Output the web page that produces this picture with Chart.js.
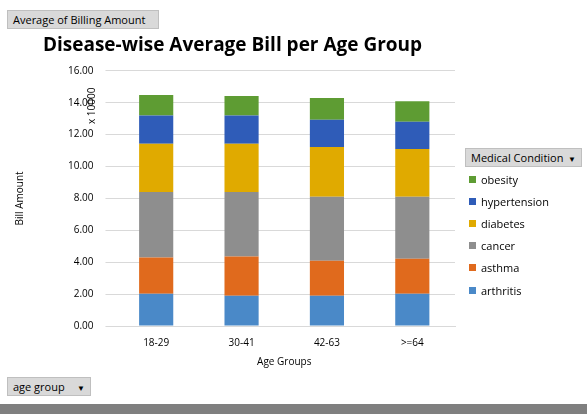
<!DOCTYPE html>
<html lang="en">
<head>
<meta charset="UTF-8">
<title>Disease-wise Average Bill per Age Group</title>
<script src="https://cdn.jsdelivr.net/npm/chart.js"></script>
<style>
    body { margin: 0; width: 587px; height: 414px; background: #fff; font-family: "Open Sans", sans-serif; position: relative; overflow: hidden; }
    #wrap { position: absolute; left: 0; top: 0; width: 587px; height: 404px; }
    .btn { position: absolute; background: #d9d9d9; border: 1px solid #bfbfbf; font-size: 11px; color: #000; padding: 1px 5px; white-space: nowrap; }
    .btn .arr { float: right; font-size: 8px; margin-top: 3px; }
    #bottombar { position: absolute; left: 0; top: 404px; width: 587px; height: 10px; background: #7f7f7f; }
    #legend { position: absolute; left: 465px; top: 168px; font-size: 11px; }
    #legend .item { display: flex; align-items: center; height: 22.2px; padding-left: 4px; }
    #legend .sw { width: 7px; height: 7px; margin-right: 5px; }
    #unit { position: absolute; left: 84px; font-size: 10px; transform: rotate(-90deg); transform-origin: left top; }
</style>
</head>
<body>
<div id="wrap"><canvas id="chart" width="587" height="404"></canvas></div>
<div class="btn" style="left:7px;top:10px;width:140px;">Average of  Billing  Amount</div>
<div class="btn" style="left:465px;top:148px;width:105px;">Medical Condition <span class="arr">&#9660;</span></div>
<div class="btn" style="left:7px;top:377px;width:72px;">age group <span class="arr">&#9660;</span></div>
<div id="unit" style="top:124px;">x 10000</div>
<div id="legend"></div>
<div id="bottombar"></div>

<script>
    const ageGroups = ['18-29', '30-41', '42-63', '>=64'];
    const conditions = ['arthritis', 'asthma', 'cancer', 'diabetes', 'hypertension', 'obesity'];
    const arthritis = [2.02, 1.89, 1.89, 2.02];
    const asthma = [2.27, 2.47, 2.20, 2.20];
    const cancer = [4.11, 4.04, 4.02, 3.89];
    const diabetes = [3.02, 3.02, 3.11, 2.98];
    const hypertension = [1.78, 1.78, 1.71, 1.71];
    const obesity = [1.29, 1.22, 1.36, 1.29];
    const yTicks = [0, 2, 4, 6, 8, 10, 12, 14, 16];

    const series = [arthritis, asthma, cancer, diabetes, hypertension, obesity];
    const colors = [
        ['#6fa8e0', '#4a89c8'],
        ['#f4915a', '#e06a1d'],
        ['#b4b4b4', '#8e8e8e'],
        ['#ffc83d', '#e0aa00'],
        ['#5a83d6', '#2f5cb8'],
        ['#86bd5c', '#5e9c33']
    ];

    // legend (top entry = last series, like Excel)
    const legend = document.getElementById('legend');
    for (let i = conditions.length - 1; i >= 0; i--) {
        legend.innerHTML += '<div class="item"><span class="sw" style="background:' + colors[i][1] + '"></span>' + conditions[i] + '</div>';
    }

    function grad(i) {
        return (ctx) => {
            const chart = ctx.chart;
            const el = ctx.element;
            if (!chart.chartArea || !el || el.y === undefined) return colors[i][1];
            const top = Math.min(el.y, el.base), bot = Math.max(el.y, el.base);
            if (!isFinite(top) || !isFinite(bot) || bot - top < 1) return colors[i][1];
            const g = chart.ctx.createLinearGradient(0, top, 0, bot);
            g.addColorStop(0, colors[i][0]);
            g.addColorStop(1, colors[i][1]);
            return g;
        };
    }

    new Chart(document.getElementById('chart'), {
        type: 'bar',
        data: {
            labels: ageGroups,
            datasets: series.map((d, i) => ({
                label: conditions[i],
                data: d,
                backgroundColor: grad(i),
                barPercentage: 0.4,
                categoryPercentage: 1
            }))
        },
        options: {
            responsive: false,
            animation: false,
            devicePixelRatio: 1,
            layout: { padding: { left: 10, right: 132, top: 10, bottom: 32 } },
            plugins: {
                legend: { display: false },
                tooltip: { enabled: false },
                title: {
                    display: true,
                    text: 'Disease-wise Average Bill per Age Group',
                    color: '#000',
                    font: { size: 19, weight: 'bold', family: '"Open Sans", sans-serif' },
                    padding: { top: 24, bottom: 14 }
                }
            },
            scales: {
                x: {
                    stacked: true,
                    grid: { display: false },
                    border: { color: '#d9d9d9' },
                    ticks: { color: '#000', font: { size: 10, family: '"Open Sans"' }, maxRotation: 0 },
                    title: { display: true, text: 'Age Groups', color: '#000', font: { size: 10, family: '"Open Sans"' } }
                },
                y: {
                    stacked: true,
                    min: 0, max: 16,
                    afterBuildTicks: (s) => { s.ticks = yTicks.map(v => ({ value: v })); },
                    grid: { color: '#d9d9d9' },
                    border: { display: false },
                    ticks: { color: '#000', font: { size: 10, family: '"Open Sans"' }, padding: 12, callback: v => Number(v).toFixed(2) },
                    title: { display: true, text: 'Bill Amount', color: '#000', font: { size: 10, family: '"Open Sans"' }, padding: { bottom: 30 } }
                }
            }
        }
    });
</script>
</body>
</html>
